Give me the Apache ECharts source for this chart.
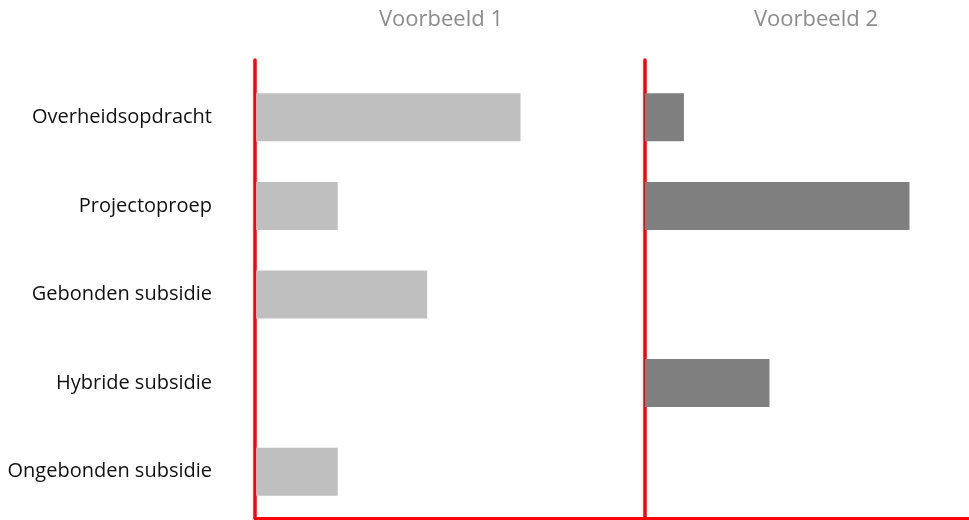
<!DOCTYPE html>
<html>
<head>
<meta charset="utf-8">
<script src="https://cdn.jsdelivr.net/npm/echarts@6/dist/echarts.min.js"></script>
<style>html,body{margin:0;padding:0;background:#fff}#c{width:969px;height:520px}</style>
</head>
<body>
<div id="c"></div>
<script>
const categories = ['Overheidsopdracht', 'Projectoproep', 'Gebonden subsidie', 'Hybride subsidie', 'Ongebonden subsidie'];
const panelTitles = ['Voorbeeld 1', 'Voorbeeld 2'];
const values1 = [68, 21, 44, 0, 21];
const values2 = [10, 68, 0, 32, 0];
const axisMax1 = 100;
const axisMax2 = 83.3;

const chart = echarts.init(document.getElementById('c'));
const font = '"Open Sans", "Noto Sans", sans-serif';
const red = '#ff0000';
chart.setOption({
  animation: false,
  title: [
    { text: panelTitles[0], left: 436, top: 4, textAlign: 'center',
      textStyle: { color: '#8c8c8c', fontSize: 22, fontWeight: 'normal', fontFamily: font } },
    { text: panelTitles[1], left: 811, top: 4, textAlign: 'center',
      textStyle: { color: '#8c8c8c', fontSize: 22, fontWeight: 'normal', fontFamily: font } }
  ],
  grid: [
    { left: 256, width: 389, top: 73, height: 443 },
    { left: 645, right: 0, top: 73, height: 443 },
    { left: 255, width: 390, top: 60, height: 458 },
    { left: 645, right: 0, top: 60, height: 458 }
  ],
  xAxis: [
    { gridIndex: 0, type: 'value', min: 0, max: axisMax1, show: false },
    { gridIndex: 1, type: 'value', min: 0, max: axisMax2, show: false },
    { gridIndex: 2, type: 'value', min: 0, max: 1, axisLine: { show: true, lineStyle: { color: red, width: 3 } },
      axisTick: { show: false }, axisLabel: { show: false }, splitLine: { show: false } },
    { gridIndex: 3, type: 'value', min: 0, max: 1, axisLine: { show: true, lineStyle: { color: red, width: 3 } },
      axisTick: { show: false }, axisLabel: { show: false }, splitLine: { show: false } }
  ],
  yAxis: [
    { gridIndex: 0, type: 'category', data: categories, inverse: true,
      axisLine: { show: false }, axisTick: { show: false }, splitLine: { show: false },
      axisLabel: { color: '#111', fontSize: 20, fontFamily: font, margin: 44, padding: [3, 0, 0, 0] } },
    { gridIndex: 1, type: 'category', data: categories, inverse: true,
      axisLine: { show: false }, axisTick: { show: false }, axisLabel: { show: false }, splitLine: { show: false } },
    { gridIndex: 2, type: 'value', min: 0, max: 1,
      axisLine: { show: true, lineStyle: { color: red, width: 3.5 } },
      axisTick: { show: false }, axisLabel: { show: false }, splitLine: { show: false } },
    { gridIndex: 3, type: 'value', min: 0, max: 1,
      axisLine: { show: true, lineStyle: { color: red, width: 3.5 } },
      axisTick: { show: false }, axisLabel: { show: false }, splitLine: { show: false } }
  ],
  series: [
    { type: 'bar', xAxisIndex: 0, yAxisIndex: 0, data: values1, barWidth: 48,
      itemStyle: { color: '#bfbfbf' }, z: 1 },
    { type: 'bar', xAxisIndex: 1, yAxisIndex: 1, data: values2, barWidth: 48,
      itemStyle: { color: '#7f7f7f' }, z: 1 }
  ]
});
</script>
</body>
</html>
